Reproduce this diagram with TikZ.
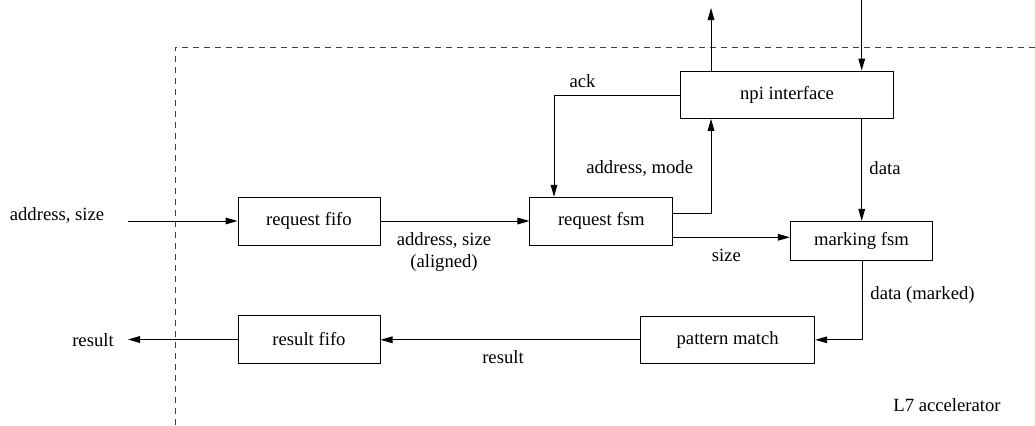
\documentclass[tikz,border=0pt]{standalone}
\usepackage{fontspec}
\setmainfont{Liberation Serif}
\usetikzlibrary{arrows.meta}
\begin{document}
\begin{tikzpicture}[x=0.75pt,y=-0.75pt,
  font=\fontsize{14}{16}\selectfont,
  blk/.style={draw, line width=0.75pt, inner sep=0pt},
  flow/.style={draw, line width=0.75pt, -{Triangle[length=9pt,width=5pt]}},
  lbl/.style={inner sep=0pt},
  boundary/.style={draw, line width=0.75pt, dash pattern=on 4.5pt off 3.75pt, black!75}]
\useasboundingbox (0,0) rectangle (1035,425);

% accelerator boundary
\draw[boundary] (175,425) -- (175,47) -- (1035,47);
\node[lbl] (accel) at (947,405) {L7 accelerator};

% functional blocks
\node[blk, minimum width=106.5pt, minimum height=36pt] (reqfifo) at (309,221) {request fifo};
\node[blk, minimum width=106.5pt, minimum height=35.6pt] (resfifo) at (309,339.5) {result fifo};
\node[blk, minimum width=107pt, minimum height=36pt] (reqfsm) at (601.3,221.3) {request fsm};
\node[blk, minimum width=160pt, minimum height=35.5pt] (npi) at (787,94.7) {npi interface};
\node[blk, minimum width=106.8pt, minimum height=29.5pt] (markfsm) at (861.5,241) {marking fsm};
\node[blk, minimum width=130.5pt, minimum height=35.3pt] (pmatch) at (727.7,339.8) {pattern match};

% routing points
\coordinate (in) at (128,221);
\coordinate (out) at (128,339.5);
\coordinate (am) at (711,213.3);
\coordinate (npiout) at (711,8);
\coordinate (npiin) at (861.7,0);
\coordinate (ackc) at (554,95);
\coordinate (sz) at (0,237.3);
\coordinate (dm) at (862,339.8);

% connections
\draw[flow] (in) -- (reqfifo.west);
\draw[flow] (reqfifo.east) -- (reqfifo.east -| reqfsm.west);
\draw[flow] (reqfsm.east |- am) -- (am) -- (am |- npi.south);
\draw[flow] (npiout |- npi.north) -- (npiout);
\draw[flow] (npiin) -- (npiin |- npi.north);
\draw[flow] (npi.west |- ackc) -- (ackc) -- (ackc |- reqfsm.north);
\draw[flow] (npiin |- npi.south) -- (npiin |- markfsm.north);
\draw[flow] (reqfsm.east |- sz) -- (markfsm.west |- sz);
\draw[flow] (dm |- markfsm.south) -- (dm) -- (pmatch.east);
\draw[flow] (pmatch.west) -- (pmatch.west -| resfifo.east);
\draw[flow] (resfifo.west) -- (out);

% signal labels
\node[lbl] (l-in) at (57,215) {address, size};
\node[lbl] (l-out) at (93,340) {result};
\node[lbl, align=center] (l-aligned) at (444,252) {address, size\\(aligned)};
\node[lbl] (l-res) at (503,357) {result};
\node[lbl] (l-ack) at (582.5,81.3) {ack};
\node[lbl] (l-am) at (639.7,168.3) {address, mode};
\node[lbl] (l-data) at (885,168.3) {data};
\node[lbl] (l-size) at (726.3,255) {size};
\node[lbl] (l-dm) at (922.5,295) {data (marked)};
\end{tikzpicture}
\end{document}
